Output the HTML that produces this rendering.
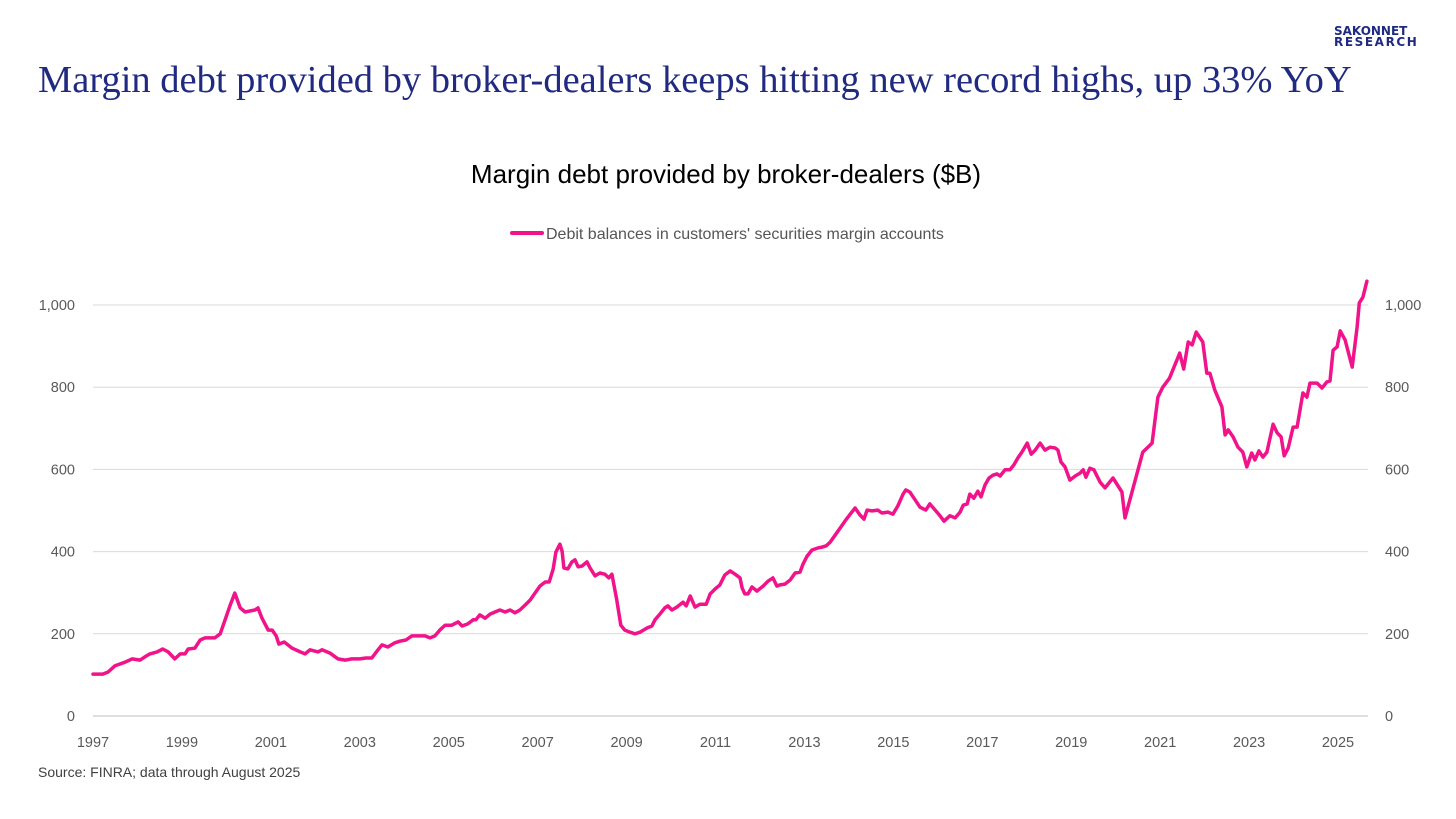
<!DOCTYPE html>
<html><head><meta charset="utf-8"><style>
html,body{margin:0;padding:0;background:#fff;}
body{width:1456px;height:819px;position:relative;overflow:hidden;font-family:"Liberation Sans",sans-serif;}
.title{position:absolute;left:38px;top:58px;font-family:"Liberation Serif",serif;font-size:38.5px;color:#1f2a80;white-space:nowrap;}
.logo{position:absolute;left:1334px;top:26px;font-family:"DejaVu Sans",sans-serif;font-weight:bold;color:#1f2a80;font-size:12px;line-height:11px;}
.source{position:absolute;left:38px;top:764px;font-size:14px;color:#404040;}
</style></head><body>
<div class="title">Margin debt provided by broker-dealers keeps hitting new record highs, up 33% YoY</div>
<div class="logo">SAKONNET<br><span style="letter-spacing:1.6px">RESEARCH</span></div>
<svg id="chart" width="1456" height="819" style="position:absolute;left:0;top:0"></svg>
<div class="source">Source: FINRA; data through August 2025</div>
<script>
const years=[1997.00,1997.22,1997.34,1997.49,1997.72,1997.88,1998.06,1998.17,1998.28,1998.44,1998.57,1998.69,1998.78,1998.84,1998.96,1999.07,1999.14,1999.29,1999.41,1999.52,1999.74,1999.86,1999.97,2000.08,2000.19,2000.31,2000.42,2000.64,2000.71,2000.80,2000.94,2001.03,2001.12,2001.18,2001.30,2001.48,2001.66,2001.77,2001.88,2002.06,2002.15,2002.33,2002.51,2002.67,2002.82,2003.00,2003.14,2003.27,2003.41,2003.50,2003.63,2003.79,2003.90,2004.04,2004.17,2004.35,2004.47,2004.58,2004.69,2004.80,2004.92,2005.07,2005.21,2005.30,2005.43,2005.55,2005.61,2005.70,2005.82,2005.93,2006.04,2006.15,2006.27,2006.38,2006.49,2006.60,2006.72,2006.83,2006.94,2007.05,2007.17,2007.26,2007.35,2007.41,2007.50,2007.55,2007.59,2007.68,2007.77,2007.84,2007.91,2008.00,2008.11,2008.18,2008.29,2008.40,2008.51,2008.60,2008.67,2008.78,2008.87,2008.96,2009.08,2009.19,2009.30,2009.46,2009.57,2009.64,2009.75,2009.86,2009.93,2010.02,2010.13,2010.27,2010.34,2010.43,2010.54,2010.65,2010.79,2010.88,2010.99,2011.10,2011.21,2011.33,2011.44,2011.55,2011.60,2011.66,2011.73,2011.82,2011.93,2012.07,2012.18,2012.29,2012.38,2012.45,2012.56,2012.68,2012.79,2012.90,2012.97,2013.06,2013.17,2013.31,2013.40,2013.49,2013.58,2013.69,2013.80,2013.91,2014.03,2014.14,2014.25,2014.34,2014.41,2014.52,2014.65,2014.74,2014.88,2014.99,2015.10,2015.22,2015.28,2015.37,2015.49,2015.60,2015.73,2015.82,2015.94,2016.05,2016.14,2016.27,2016.39,2016.50,2016.57,2016.66,2016.72,2016.81,2016.90,2016.97,2017.06,2017.15,2017.24,2017.33,2017.40,2017.51,2017.62,2017.71,2017.80,2017.89,2018.01,2018.10,2018.19,2018.30,2018.41,2018.52,2018.64,2018.70,2018.77,2018.86,2018.97,2019.09,2019.20,2019.27,2019.33,2019.42,2019.51,2019.58,2019.65,2019.76,2019.94,2020.14,2020.21,2020.32,2020.61,2020.82,2020.95,2021.06,2021.21,2021.44,2021.53,2021.63,2021.72,2021.81,2021.96,2022.05,2022.12,2022.23,2022.39,2022.46,2022.53,2022.64,2022.75,2022.86,2022.95,2023.06,2023.13,2023.22,2023.31,2023.40,2023.54,2023.63,2023.72,2023.79,2023.88,2023.99,2024.08,2024.21,2024.30,2024.37,2024.53,2024.64,2024.75,2024.82,2024.89,2024.98,2025.05,2025.16,2025.32,2025.43,2025.48,2025.56,2025.65];
const values=[102,102,107,122,131,139,136,144,151,156,163,156,146,139,151,151,163,165,185,190,190,200,234,268,299,263,253,258,263,238,209,209,195,175,180,165,156,151,161,156,161,153,139,136,139,139,141,141,161,173,168,178,182,185,195,195,195,190,195,209,221,221,229,219,224,234,234,246,238,248,253,258,253,258,251,258,270,282,299,316,326,326,358,399,418,401,360,358,375,380,363,365,375,360,341,348,345,336,345,282,221,209,204,200,204,214,219,234,248,263,268,258,265,277,268,292,265,272,272,297,309,319,343,353,345,336,311,297,297,314,304,316,328,336,316,319,321,331,348,350,370,389,404,409,411,414,423,440,457,474,491,506,489,479,501,499,501,494,496,491,511,540,550,545,526,508,501,516,501,487,474,487,482,496,513,516,540,530,547,533,562,579,586,589,584,599,599,611,628,642,664,637,647,664,647,654,652,647,618,606,574,584,591,599,581,603,599,584,569,555,579,545,482,526,642,664,776,800,822,883,844,910,903,934,910,834,834,793,752,684,696,679,654,642,606,640,623,645,630,642,710,689,679,633,652,703,703,786,776,810,810,798,813,815,890,898,937,915,849,946,1005,1019,1058];
const yTicks=[0,200,400,600,800,1000];
const yTickLabels=["0","200","400","600","800","1,000"];
const xTicks=[1997,1999,2001,2003,2005,2007,2009,2011,2013,2015,2017,2019,2021,2023,2025];
const NS="http://www.w3.org/2000/svg";
const svg=document.getElementById('chart');
const X0=93,X1=1338,Y0=716,Y1=305;
const xs=t=>X0+(t-1997)*(X1-X0)/28;
const ys=v=>Y0-v*(Y0-Y1)/1000;
function mk(tag,attrs){const e=document.createElementNS(NS,tag);for(const k in attrs)e.setAttribute(k,attrs[k]);svg.appendChild(e);return e;}
let t=mk('text',{x:726,y:183,'text-anchor':'middle','font-size':26,fill:'#000','font-family':'Liberation Sans, sans-serif'});t.textContent="Margin debt provided by broker-dealers ($B)";


let ll=mk('line',{x1:512,y1:233,x2:542,y2:233,stroke:'#f0138a','stroke-width':4,'stroke-linecap':'round'});


t=mk('text',{x:546,y:239,'font-size':16,fill:'#555','font-family':'Liberation Sans, sans-serif'});t.textContent="Debit balances in customers' securities margin accounts";


yTicks.forEach((v,i)=>{
  const y=ys(v);
  const g=mk('line',{x1:X0,x2:1368,y1:y,y2:y,stroke:v===0?'#bfbfbf':'#d9d9d9','stroke-width':1});
  
  
  let a=mk('text',{x:75,y:y+5,'text-anchor':'end','font-size':14.5,fill:'#595959'});a.textContent=yTickLabels[i];
  
  
  let b=mk('text',{x:1385,y:y+5,'text-anchor':'start','font-size':14.5,fill:'#595959'});b.textContent=yTickLabels[i];
  
  
});
xTicks.forEach(yr=>{
  let a=mk('text',{x:xs(yr),y:747,'text-anchor':'middle','font-size':14.5,fill:'#595959'});a.textContent=String(yr);
  
  
});
const d=years.map((yr,i)=>(i?'L':'M')+xs(yr).toFixed(1)+','+ys(values[i]).toFixed(1)).join(' ');
const p=mk('path',{d:d,fill:'none',stroke:'#f0138a','stroke-width':3.5,'stroke-linejoin':'round','stroke-linecap':'round'});


</script>
</body></html>
